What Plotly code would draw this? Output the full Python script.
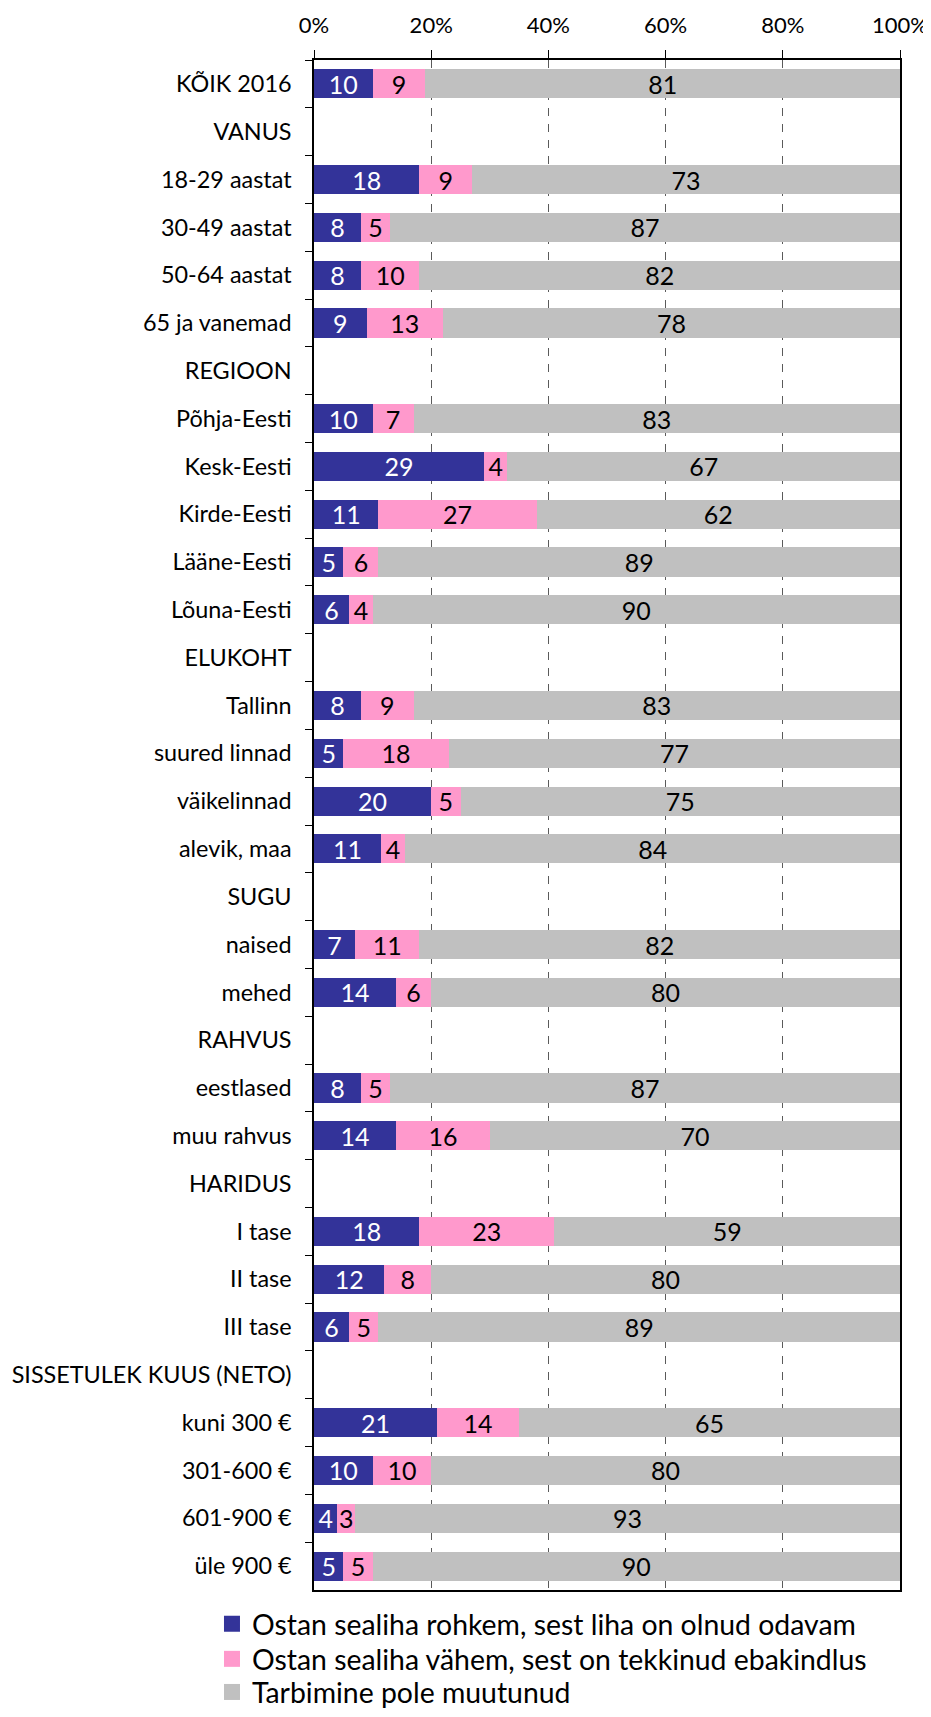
import plotly.graph_objects as go

categories = [
    "KÕIK 2016", "VANUS", "18-29 aastat", "30-49 aastat", "50-64 aastat", "65 ja vanemad",
    "REGIOON", "Põhja-Eesti", "Kesk-Eesti", "Kirde-Eesti", "Lääne-Eesti", "Lõuna-Eesti",
    "ELUKOHT", "Tallinn", "suured linnad", "väikelinnad", "alevik, maa",
    "SUGU", "naised", "mehed",
    "RAHVUS", "eestlased", "muu rahvus",
    "HARIDUS", "I tase", "II tase", "III tase",
    "SISSETULEK KUUS (NETO)", "kuni 300 €", "301-600 €", "601-900 €", "üle 900 €",
]

more = [10, None, 18, 8, 8, 9, None, 10, 29, 11, 5, 6, None, 8, 5, 20, 11.4,
        None, 7, 14, None, 8, 14, None, 18, 12, 6, None, 21, 10, 4, 5]
less = [9, None, 9, 5, 10, 13, None, 7, 4, 27, 6, 4, None, 9, 18, 5, 4.2,
        None, 11, 6, None, 5, 16, None, 23, 8, 5, None, 14, 10, 3, 5]
same = [81, None, 73, 87, 82, 78, None, 83, 67, 62, 89, 90, None, 83, 77, 75, 84.4,
        None, 82, 80, None, 87, 70, None, 59, 80, 89, None, 65, 80, 93, 90]

series_names = [
    "Ostan sealiha rohkem, sest liha on olnud odavam",
    "Ostan sealiha vähem, sest on tekkinud ebakindlus",
    "Tarbimine pole muutunud",
]
colors = ["#333399", "#FF99CC", "#C0C0C0"]
text_colors = ["white", "black", "black"]

FONT = "Lato"
fig = go.Figure()
for vals, name, col, tcol in zip([more, less, same], series_names, colors, text_colors):
    fig.add_trace(go.Bar(
        y=categories, x=vals, name=name, orientation="h",
        marker=dict(color=col, line=dict(width=0)),
        texttemplate="%{x:.0f}",
        textposition="inside", insidetextanchor="middle", textangle=0,
        textfont=dict(color=tcol, size=25, family=FONT),
        hoverinfo="skip", showlegend=False,
    ))

# legend proxies (larger square symbols), one legend box per entry
legend_ids = ["legend", "legend2", "legend3"]
for name, col, lid in zip(series_names, colors, legend_ids):
    fig.add_trace(go.Scatter(
        x=[None], y=[None], mode="markers", name=name,
        marker=dict(symbol="square", size=16, color=col),
        hoverinfo="skip", showlegend=True, legend=lid,
    ))

legend_common = dict(
    orientation="v", xref="container", yref="container",
    x=0.221, xanchor="left",
    font=dict(size=28.4, family=FONT),
    bgcolor="rgba(0,0,0,0)", itemclick=False, itemsizing="trace",
)

# the page body adds an 8px margin, so the figure is 8px smaller
fig.update_layout(
    width=923, height=1709,
    barmode="stack", bargap=0.39,
    plot_bgcolor="white", paper_bgcolor="white",
    margin=dict(l=306, r=31, t=52, b=127, pad=0, autoexpand=False),
    font=dict(family=FONT, size=25, color="black"),
    uniformtext=dict(mode="show", minsize=25),
    legend=dict(legend_common, y=0.0545, yanchor="middle"),
    legend2=dict(legend_common, y=0.0340, yanchor="middle"),
    legend3=dict(legend_common, y=0.0, yanchor="bottom"),
    showlegend=True,
)
fig.update_xaxes(
    side="top", range=[0, 100], tickvals=[0, 20, 40, 60, 80, 100],
    ticktext=["0%", "20%", "40%", "60%", "80%", "100%"],
    showgrid=True, gridcolor="#5a5a5a", griddash="8px,8px", gridwidth=1,
    showline=True, linecolor="black", linewidth=1.5, mirror=True,
    ticks="outside", ticklen=8, tickcolor="black", tickwidth=1,
    tickfont=dict(size=22, family=FONT), zeroline=False, fixedrange=True,
    ticklabelstandoff=8, ticklabeloverflow="allow", automargin=False,
)
fig.update_yaxes(
    autorange="reversed", categoryorder="array", categoryarray=categories,
    showline=True, linecolor="black", linewidth=1.5, mirror=True,
    ticks="outside", ticklen=7, tickcolor="black", tickson="boundaries",
    tickfont=dict(size=23.4, family=FONT), showgrid=False, ticklabelstandoff=16,
    fixedrange=True, automargin=False,
)

fig.write_html("out.html")
